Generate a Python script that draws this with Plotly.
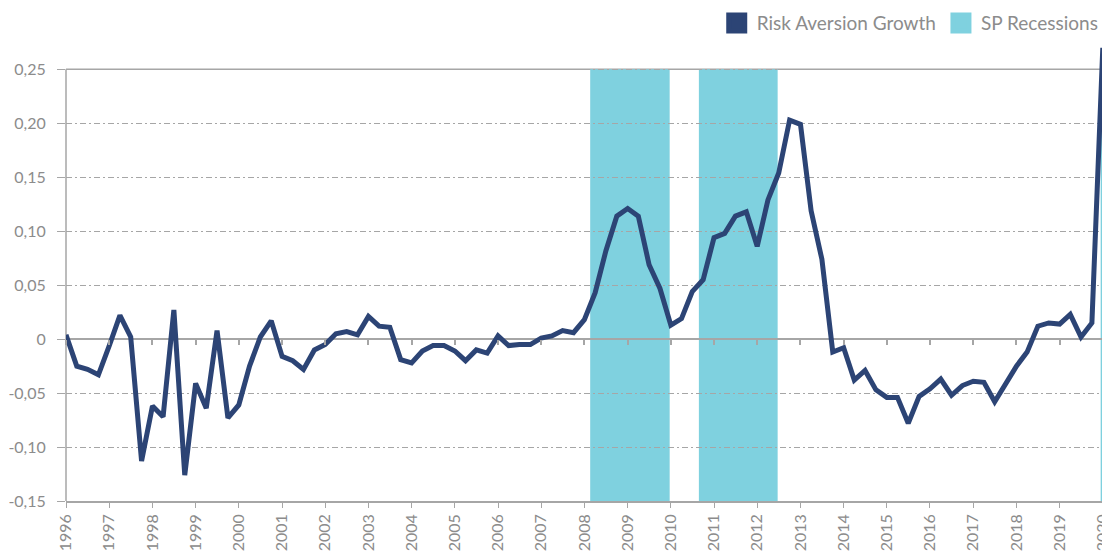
import pandas as pd
import plotly.graph_objects as go

# quarterly risk aversion growth, 1996 Q1 .. 2020 Q1
risk_aversion = [
    0.004, -0.025, -0.028, -0.033, -0.006, 0.022, 0.002, -0.113,
    -0.062, -0.072, 0.027, -0.126, -0.041, -0.064, 0.008, -0.073,
    -0.061, -0.025, 0.002, 0.017, -0.016, -0.020, -0.028, -0.010,
    -0.005, 0.005, 0.007, 0.004, 0.021, 0.012, 0.011, -0.019,
    -0.022, -0.011, -0.006, -0.006, -0.011, -0.020, -0.010, -0.013,
    0.003, -0.006, -0.005, -0.005, 0.001, 0.003, 0.008, 0.006,
    0.018, 0.043, 0.082, 0.114, 0.121, 0.114, 0.069, 0.047,
    0.013, 0.019, 0.044, 0.055, 0.094, 0.098, 0.114, 0.118,
    0.086, 0.129, 0.154, 0.203, 0.199, 0.119, 0.074, -0.012,
    -0.008, -0.038, -0.029, -0.047, -0.054, -0.054, -0.078, -0.053,
    -0.046, -0.037, -0.052, -0.043, -0.039, -0.040, -0.058, -0.042,
    -0.025, -0.012, 0.012, 0.015, 0.014, 0.023, 0.002, 0.015,
    0.270,
]
quarters = pd.date_range('1996-01-01', periods=len(risk_aversion), freq='QS')

rec_start = ['2008-02-19', '2010-08-26', '2019-12-14']
rec_end = ['2009-12-22', '2012-06-22', '2020-03-02']

y_ticks = [-0.15, -0.10, -0.05, 0, 0.05, 0.10, 0.15, 0.20, 0.25]
y_labels = ['-0,15', '-0,10', '-0,05', '0', '0,05', '0,10', '0,15', '0,20', '0,25']
year_ticks = pd.date_range('1996-01-01', '2020-01-01', freq='YS')

navy = '#2C4475'
teal = '#7FD1DF'
grey = '#A6A6A6'
text_grey = '#8C8C8C'

y_min, y_top, y_max = -0.15, 0.25, 0.28
x_range = ['1996-01-01', '2020-03-02']

fig = go.Figure()
fig.add_trace(go.Scatter(x=quarters, y=risk_aversion, mode='lines',
                         line=dict(color=navy, width=5),
                         showlegend=False, name='Risk Aversion Growth'))

# legend swatches
for name, color in [('Risk Aversion Growth', navy), ('SP Recessions', teal)]:
    fig.add_trace(go.Scatter(x=[None], y=[None], mode='markers', name=name,
                             marker=dict(symbol='square', size=16, color=color,
                                         line=dict(color=color, width=5))))

# helper trace so the zero-line tick axis gets drawn
fig.add_trace(go.Scatter(x=[quarters[0]], y=[0], xaxis='x2', mode='markers',
                         marker=dict(opacity=0), showlegend=False,
                         hoverinfo='skip'))

for s, e in zip(rec_start, rec_end):
    fig.add_shape(type='rect', xref='x', yref='y', x0=s, x1=e,
                  y0=y_min, y1=y_top, fillcolor=teal, line_width=0,
                  layer='below')

# solid top border and left axis line
fig.add_shape(type='line', xref='paper', yref='y', x0=0, x1=1,
              y0=y_top, y1=y_top, line=dict(color=grey, width=1.5),
              layer='between')
fig.add_shape(type='line', xref='paper', yref='y', x0=0, x1=0,
              y0=y_min, y1=y_top, line=dict(color=grey, width=1.5),
              layer='between')

zero_pos = (0 - y_min) / (y_max - y_min)

# the page body adds an 8px margin, so the figure is 8px smaller than the window
fig.update_layout(
    width=1102, height=546,
    margin=dict(l=58, r=0, t=29, b=53, autoexpand=False),
    plot_bgcolor='white', paper_bgcolor='white',
    font=dict(family='Lato', size=17, color=text_grey),
    legend=dict(orientation='h', x=0.994, xanchor='right', y=1.03,
                yanchor='middle', font=dict(size=19, color=text_grey),
                bgcolor='rgba(0,0,0,0)'),
    xaxis=dict(type='date', range=x_range, tickvals=year_ticks,
               tickformat='%Y', tickangle=-90, ticks='outside', ticklen=5,
               tickcolor=grey, showline=True, linecolor=grey, linewidth=1.5,
               showgrid=False, zeroline=False, automargin=False,
               ticklabeloverflow='allow', tickfont=dict(size=16)),
    xaxis2=dict(type='date', range=x_range, overlaying='x', anchor='free',
                position=zero_pos, tickvals=year_ticks, ticks='outside',
                ticklen=5, tickwidth=1.5, tickcolor=grey,
                showticklabels=False, showgrid=False, showline=False,
                zeroline=False),
    yaxis=dict(range=[y_min, y_max], tickvals=y_ticks, ticktext=y_labels,
               ticks='outside', ticklen=8, tickcolor=grey,
               ticklabelstandoff=8, tickfont=dict(size=16),
               showgrid=True, gridcolor=grey, gridwidth=1,
               griddash='6px,3px,2px,3px', automargin=False,
               zeroline=True, zerolinecolor=grey, zerolinewidth=2,
               showline=False),
)

fig.write_html('out.html')
